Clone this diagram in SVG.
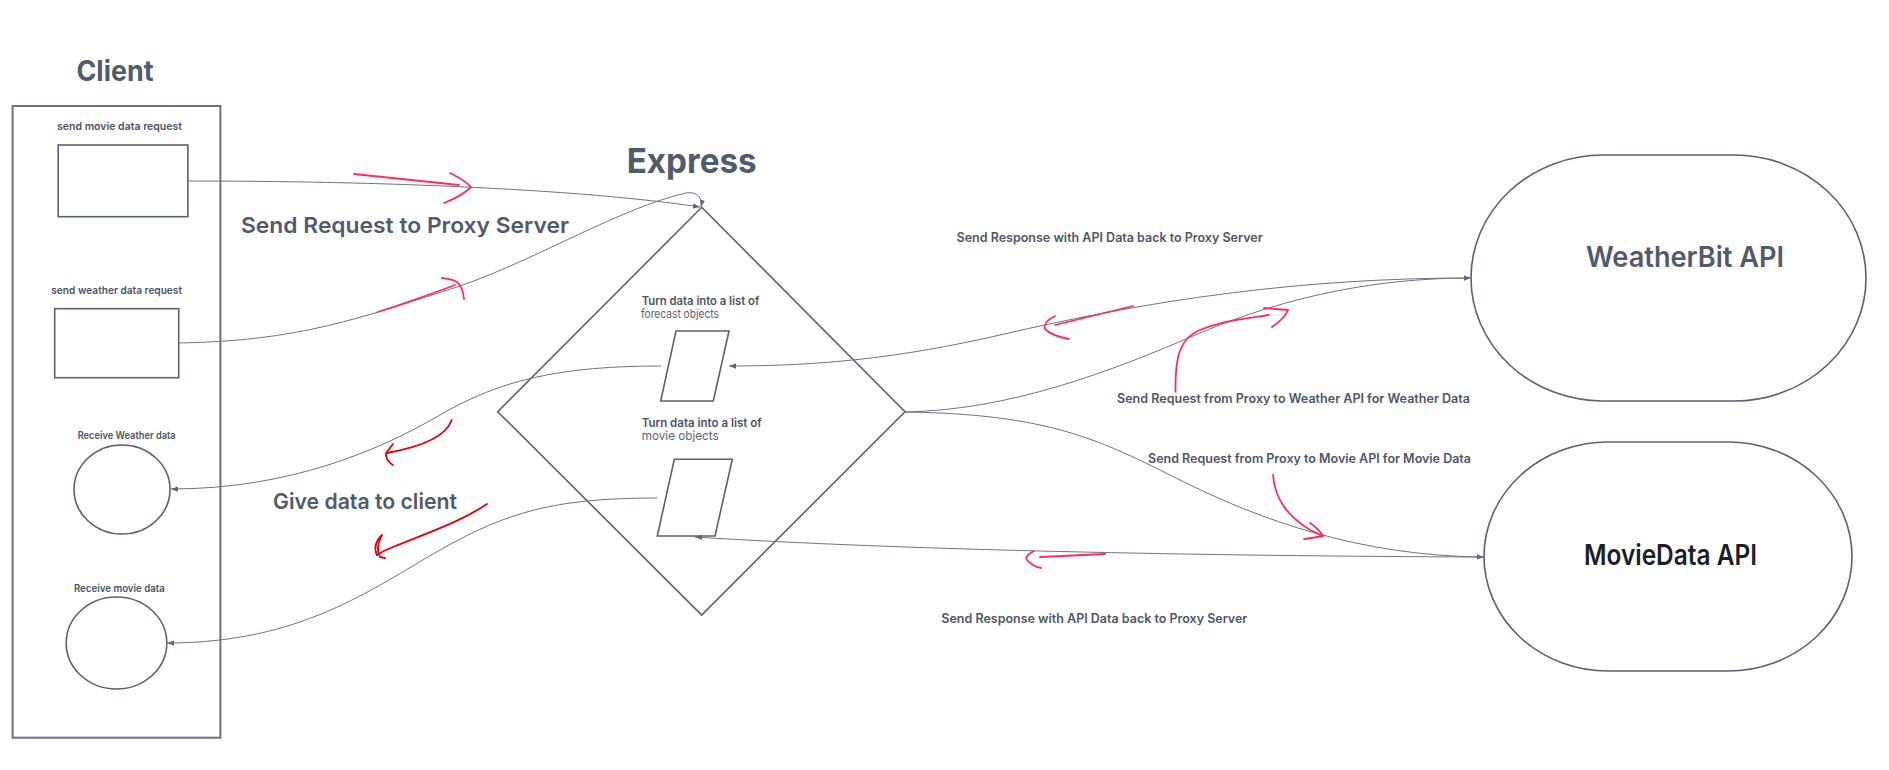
<svg xmlns="http://www.w3.org/2000/svg" width="1889" height="770" viewBox="0 0 1889 770">
<style>
.bg{fill:#ffffff}
.shape{fill:#ffffff;stroke:#5a6174;stroke-width:1.6}
.frame{fill:none;stroke:#6b7183;stroke-width:2}
.conn{fill:none;stroke:#6e7487;stroke-width:1}
.pink{fill:none;stroke:#ff2d5e;stroke-width:1.8;stroke-linecap:round;stroke-linejoin:round}
.red{fill:none;stroke:#e5000f;stroke-width:1.8;stroke-linecap:round;stroke-linejoin:round}
text{font-family:Inter,"Noto Sans","Liberation Sans",sans-serif;fill:#525a6e}
.h1{font-size:28px;font-weight:700}
.h2{font-size:22px;font-weight:600}
.sm{font-size:11px;font-weight:600;fill:#4d5466}
.md{font-size:12.5px;font-weight:600;fill:#4f5668}
.reg{font-weight:400;fill:#5d6375}
</style>
<defs>
<marker id="arr" viewBox="0 0 8 6" refX="8" refY="3" markerWidth="7" markerHeight="6" markerUnits="userSpaceOnUse" orient="auto">
<path d="M0,0 L8,3 L0,6 z" fill="#5e6477"/>
</marker>
</defs>
<rect class="bg" x="0" y="0" width="1889" height="770"/>

<g id="client">
<text class="h1" x="76.5" y="80.7" textLength="77" lengthAdjust="spacingAndGlyphs">Client</text>
<rect class="frame" x="12.6" y="106" width="207.8" height="631.7"/>
</g>
<g id="send-movie">
<text class="sm" x="57" y="130" textLength="125" lengthAdjust="spacingAndGlyphs">send movie data request</text>
<rect class="shape" x="58.2" y="145" width="129.7" height="71.7"/>
</g>
<g id="send-weather">
<text class="sm" x="51.3" y="294" textLength="130.7" lengthAdjust="spacingAndGlyphs">send weather data request</text>
<rect class="shape" x="54.7" y="308.7" width="124" height="69"/>
</g>
<g id="receive-weather">
<text class="sm" x="77.7" y="439" style="font-size:10.5px" textLength="98" lengthAdjust="spacingAndGlyphs">Receive Weather data</text>
<ellipse class="shape" cx="122" cy="489.5" rx="48" ry="44.5"/>
</g>
<g id="receive-movie">
<text class="sm" x="73.9" y="591.7" style="font-size:10.5px" textLength="91" lengthAdjust="spacingAndGlyphs">Receive movie data</text>
<ellipse class="shape" cx="116.5" cy="643" rx="50.3" ry="46"/>
</g>

<g id="express">
<text x="626.7" y="172.7" style="font-size:34px;font-weight:700" textLength="130" lengthAdjust="spacingAndGlyphs">Express</text>
<polygon class="shape" style="fill:none" points="701.7,207.3 905,411.7 701.7,615 497.7,411.7"/>
</g>
<g id="forecast-objects">
<text class="sm" x="641.7" y="305" style="font-size:11.5px" textLength="117.6" lengthAdjust="spacingAndGlyphs">Turn data into a list of</text>
<text class="sm reg" x="641" y="318.3" style="font-size:11.5px" textLength="78" lengthAdjust="spacingAndGlyphs">forecast objects</text>
<polygon class="shape" points="676,331 729,331 713.3,401 660.7,401"/>
</g>
<g id="movie-objects">
<text class="sm" x="641.7" y="426.7" style="font-size:12px" textLength="120" lengthAdjust="spacingAndGlyphs">Turn data into a list of</text>
<text class="sm reg" x="641.7" y="440" style="font-size:12px" textLength="77" lengthAdjust="spacingAndGlyphs">movie objects</text>
<polygon class="shape" points="674.3,459.3 732.3,459.3 715,536 657.3,536"/>
</g>

<g id="weatherbit">
<rect class="shape" x="1471" y="155" width="395" height="246" rx="132" ry="123"/>
<text class="h1" style="font-weight:600" x="1586" y="267.3" textLength="198" lengthAdjust="spacingAndGlyphs">WeatherBit API</text>
</g>
<g id="moviedata">
<rect class="shape" x="1484" y="442" width="368" height="229" rx="124" ry="114.5"/>
<text class="h1" style="font-weight:600;fill:#1c1f26" x="1584" y="565" textLength="173" lengthAdjust="spacingAndGlyphs">MovieData API</text>
</g>

<g id="connectors">
<path class="conn" marker-end="url(#arr)" d="M188,181 C380,181 580,189 700,207"/>
<path class="conn" marker-end="url(#arr)" d="M179,343 C300,341 360,318 460,286 C540,258 620,208 686,193 C697,191 703,198 701,207"/>
<path class="conn" marker-end="url(#arr)" d="M661,366 C560,366 500,380 440,415 C380,450 290,489 171,489"/>
<path class="conn" marker-end="url(#arr)" d="M657,498 C560,498 510,510 440,550 C370,590 300,643 167,643"/>
<path class="conn" marker-end="url(#arr)" d="M905,412 C1010,410 1110,372 1200,333 C1290,295 1380,278 1471,278"/>
<path class="conn" marker-end="url(#arr)" d="M1471,278 C1300,278 1150,300 1000,335 C900,358 820,366 729,366"/>
<path class="conn" marker-end="url(#arr)" d="M905,412 C1050,414 1100,440 1180,480 C1260,520 1360,556 1484,557"/>
<path class="conn" marker-end="url(#arr)" d="M1484,557 C1200,556 900,550 695,537"/>
</g>

<g id="labels">
<text class="h2" x="241" y="232.7" textLength="328" lengthAdjust="spacingAndGlyphs">Send Request to Proxy Server</text>
<text class="h2" x="273" y="509" textLength="184" lengthAdjust="spacingAndGlyphs">Give data to client</text>
<text class="md" x="956.6" y="242.3" textLength="306" lengthAdjust="spacingAndGlyphs">Send Response with API Data back to Proxy Server</text>
<text class="md" x="1117" y="402.7" textLength="353" lengthAdjust="spacingAndGlyphs">Send Request from Proxy to Weather API for Weather Data</text>
<text class="md" x="1148" y="463.3" textLength="323" lengthAdjust="spacingAndGlyphs">Send Request from Proxy to Movie API for Movie Data</text>
<text class="md" x="941.3" y="622.7" textLength="306" lengthAdjust="spacingAndGlyphs">Send Response with API Data back to Proxy Server</text>
</g>

<g id="annotations">
<path class="pink" d="M354,174 L459,185"/>
<path class="pink" d="M450,173 Q466,181 471,187 Q462,196 444,203"/>
<path class="pink" d="M378,312 Q421,298 455,285"/>
<path class="pink" d="M442,278 Q452,279 457,282 Q463,287 464,299"/>
<path class="pink" d="M1133,306 L1055,325"/>
<path class="pink" d="M1055,316 Q1043,322 1045,329 Q1052,336 1069,339"/>
<path class="pink" d="M1175.5,391.7 C1175,356 1180,338 1200,330 C1225,320 1250,318 1269,315"/>
<path class="pink" d="M1264,308 L1288,310 Q1285,318 1272,327"/>
<path class="pink" d="M1273,475 C1275,500 1288,516 1310,530 L1323,536"/>
<path class="pink" d="M1310,523 Q1318,528 1323,536 Q1312,538 1304,539"/>
<path class="pink" d="M1105,554 L1040,557"/>
<path class="pink" d="M1034,551 Q1024,556 1027,560 Q1032,566 1041,568"/>
<path class="red" d="M451.7,420 C446,437 420,447 387,453"/>
<path class="red" d="M393,444 L386,453 Q385,460 393,465"/>
<path class="red" d="M487,504 C460,522 430,532 393,547 Q381,552 377,555"/>
<path class="red" d="M377,555 Q372,545 382,535 Q375,548 380,557 L385,558"/>
</g>
</svg>
